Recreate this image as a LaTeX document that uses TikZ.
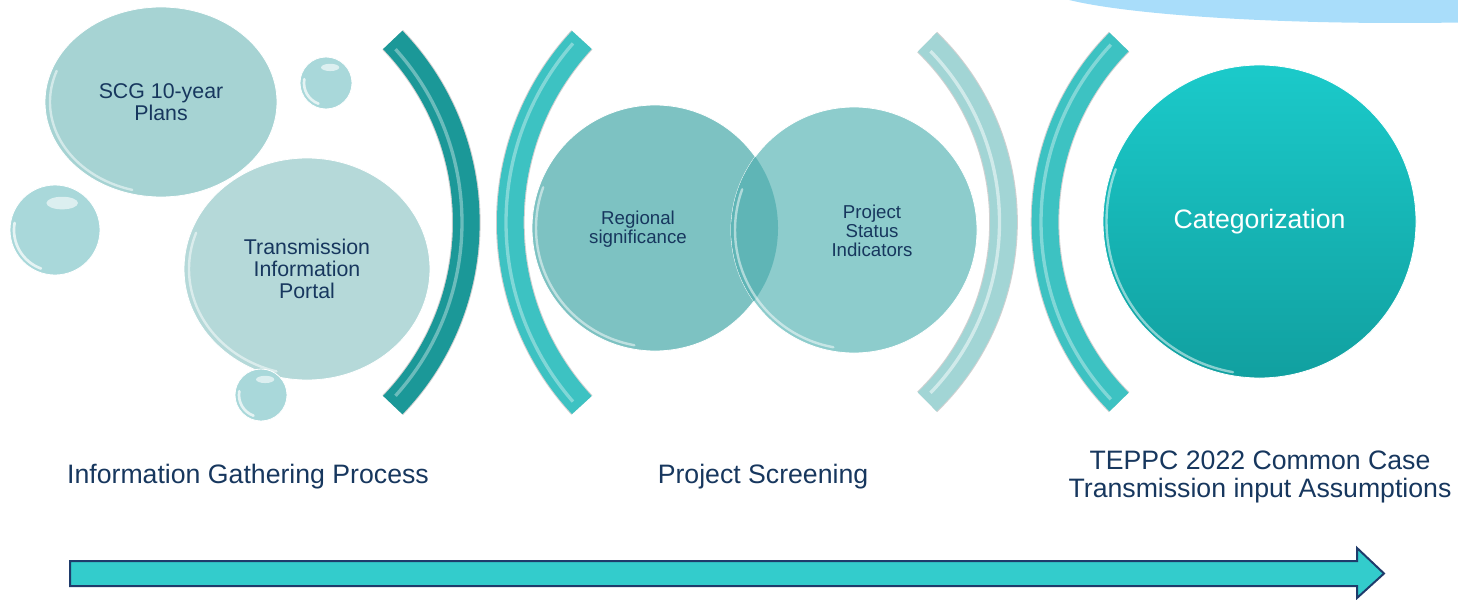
\documentclass[tikz,border=0pt]{standalone}
\usepackage{fontspec}
\setmainfont{Liberation Sans}
\usetikzlibrary{shapes.geometric, positioning}
\definecolor{navy}{HTML}{17375E}
\definecolor{scgfill}{HTML}{A6D3D3}
\definecolor{tipfill}{HTML}{B5D9D9}
\definecolor{dropfill}{HTML}{A9D8DA}
\definecolor{regfill}{HTML}{7DC2C2}
\definecolor{statfill}{HTML}{8DCCCC}
\definecolor{lensfill}{HTML}{5FB5B6}
\definecolor{cattop}{HTML}{1BCACA}
\definecolor{catbot}{HTML}{11A0A0}
\definecolor{arcdark}{HTML}{1B9898}
\definecolor{arcmid}{HTML}{3DC2C2}
\definecolor{arclight}{HTML}{A2D5D5}
\definecolor{arrowfill}{HTML}{33CCCC}
\definecolor{arrowline}{HTML}{1F3B6B}
\definecolor{swoosh}{HTML}{A9DDFA}
\definecolor{swooshdark}{HTML}{8FD2F6}

\tikzset{
  bubble/.style={ellipse, draw=white, line width=0.6pt, inner sep=0pt, text=navy, align=center},
  drop/.style={circle, fill=dropfill, draw=white, line width=0.6pt, inner sep=0pt},
  gloss/.style={draw=white, line width=1.8pt, opacity=0.5, line cap=round},
  band/.style={line width=20pt},
  rim/.style={line width=21.5pt, draw=black, opacity=0.18},
  sheen/.style={line width=2.5pt, opacity=0.5},
  innertext/.style={text=navy, align=center, font=\fontsize{14}{14}\selectfont},
  steplabel/.style={text=navy, align=center, font=\fontsize{20}{21}\selectfont},
}

\begin{document}
\begin{tikzpicture}[x=0.75pt, y=-0.75pt]
    \useasboundingbox (0,0) rectangle (1458,599);

    % Corner swoosh
    \begin{scope}
        \clip (0,0) rectangle (1458,599);
        \fill[swoosh] (1400,-15) ellipse[x radius=360, y radius=38];
        \fill[swooshdark] (1560,-28) ellipse[x radius=200, y radius=32];
    \end{scope}

    % Information gathering bubbles
    \node[bubble, fill=scgfill, minimum width=174pt, minimum height=142.5pt,
          font=\fontsize{16}{16.5}\selectfont] (scg) at (161,102) {SCG 10-year\\Plans};
    \draw[gloss] (scg.center) ++(105:111 and 91) arc[start angle=105, end angle=200, x radius=111, y radius=91];
    \node[bubble, fill=tipfill, minimum width=184.5pt, minimum height=166.5pt,
          font=\fontsize{16}{16.5}\selectfont] (tip) at (307,269) {Transmission\\Information\\Portal};
    \draw[gloss] (tip.center) ++(105:118 and 106) arc[start angle=105, end angle=200, x radius=118, y radius=106];
    \node[drop, minimum size=39pt] (dropa) at (326,83) {};
    \node[drop, minimum size=67.5pt] (dropb) at (55,230) {};
    \node[drop, minimum size=39pt] (dropc) at (261,395) {};
    \foreach \d/\r in {dropa/26, dropb/45, dropc/26} {
        \draw[gloss, line width=2pt, opacity=0.7] (\d.center) ++(110:\r-4) arc[start angle=110, end angle=190, radius=\r-4];
        \fill[white, opacity=0.6] (\d.center) ++(-75:\r*0.62) ellipse[x radius=\r*0.35, y radius=\r*0.14];
    }

    % Brackets
    \draw[rim] (203,222.5) ++(-43.9:263.3) arc[start angle=-43.9, end angle=43.9, radius=263.3];
    \draw[band, draw=arcdark] (203,222.5) ++(-43.9:263.3) arc[start angle=-43.9, end angle=43.9, radius=263.3];
    \draw[sheen, draw=arcdark!30!white] (203,222.5) ++(-42:259) arc[start angle=-42, end angle=42, radius=259];
    \draw[rim] (779,222.5) ++(137.2:268.7) arc[start angle=137.2, end angle=222.8, radius=268.7];
    \draw[band, draw=arcmid] (779,222.5) ++(137.2:268.7) arc[start angle=137.2, end angle=222.8, radius=268.7];
    \draw[sheen, draw=arcmid!30!white] (779,222.5) ++(139:273) arc[start angle=139, end angle=221, radius=273];
    \draw[rim] (753.5,222) ++(-46:250) arc[start angle=-46, end angle=46, radius=250];
    \draw[band, draw=arclight] (753.5,222) ++(-46:250) arc[start angle=-46, end angle=46, radius=250];
    \draw[sheen, draw=white] (753.5,222) ++(-44:246) arc[start angle=-44, end angle=44, radius=246];
    \draw[rim] (1301,222) ++(135.3:256) arc[start angle=135.3, end angle=224.7, radius=256];
    \draw[band, draw=arcmid] (1301,222) ++(135.3:256) arc[start angle=135.3, end angle=224.7, radius=256];
    \draw[sheen, draw=arcmid!30!white] (1301,222) ++(137:260) arc[start angle=137, end angle=223, radius=260];

    % Screening circles
    \node[circle, fill=regfill, draw=white, line width=0.6pt, minimum size=184.5pt] (reg) at (655,228) {};
    \node[circle, fill=statfill, draw=white, line width=0.6pt, minimum size=184.5pt] (stat) at (854,230) {};
    \begin{scope}
        \clip (reg.center) circle[radius=123];
        \fill[lensfill] (stat.center) circle[radius=123];
    \end{scope}
    \draw[gloss] (reg.center) ++(100:119) arc[start angle=100, end angle=200, radius=119];
    \draw[gloss] (stat.center) ++(100:119) arc[start angle=100, end angle=200, radius=119];
    \node[innertext] (regtxt) at (638,229) {Regional\\significance};
    \node[innertext, font=\fontsize{14}{14.4}\selectfont] (stattxt) at (872,231) {Project\\Status\\Indicators};

    % Categorization
    \node[circle, top color=cattop, bottom color=catbot, draw=white, line width=0.6pt,
          minimum size=234.75pt, text=white, font=\fontsize{20}{20}\selectfont] (cat) at (1259.5,221.5) {Categorization};
    \draw[gloss] (cat.center) ++(100:153) arc[start angle=100, end angle=200, radius=153];

    % Step labels
    \node[steplabel] (gather) at (248,477) {Information Gathering Process};
    \node[steplabel] (screen) at (763,477) {Project Screening};
    \node[steplabel] (teppc) at (1260,477) {TEPPC 2022 Common Case\\Transmission input Assumptions};

    % Timeline arrow
    \draw[fill=arrowfill, draw=arrowline, line width=1.5pt, line join=miter]
        (70,561) -- (1357,561) -- (1357,548) -- (1384,573.5) -- (1357,598) -- (1357,586) -- (70,586) -- cycle;
\end{tikzpicture}
\end{document}
